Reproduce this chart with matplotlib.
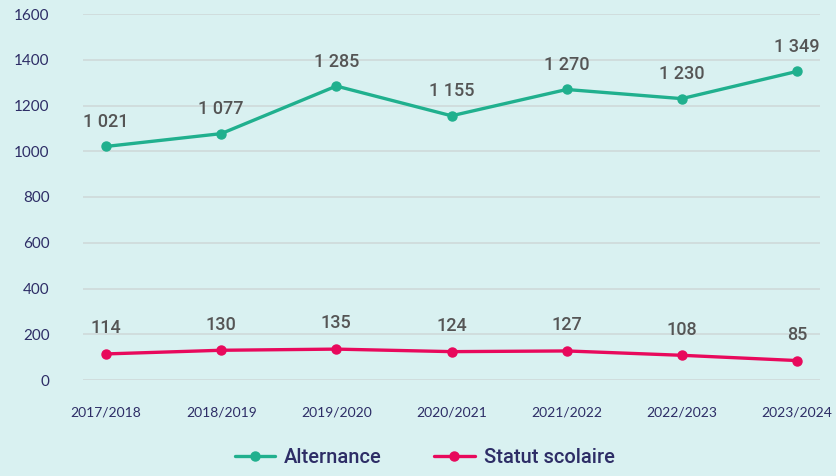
import matplotlib
matplotlib.use("Agg")
from matplotlib import pyplot as plt

years = ["2017/2018", "2018/2019", "2019/2020", "2020/2021", "2021/2022", "2022/2023", "2023/2024"]
alternance = [1021, 1077, 1285, 1155, 1270, 1230, 1349]
statut = [114, 130, 135, 124, 127, 108, 85]
yticks = [0, 200, 400, 600, 800, 1000, 1200, 1400, 1600]

bg = "#d9f1f1"
green = "#20b08e"
pink = "#e8095c"
navy = "#2d2d66"
grey = "#555555"

def fmt(v):
    return f"{v:,}".replace(",", " ")

fig = plt.figure(figsize=(8.36, 4.76), dpi=100, facecolor=bg)
ax = fig.add_axes([83/836, 1 - 380/476, (820-83)/836, (380-14)/476])
ax.set_facecolor(bg)

x = list(range(len(years)))
ax.plot(x, alternance, color=green, lw=2.4, marker="o", ms=6.5, label="Alternance",
        solid_capstyle="round", zorder=3, clip_on=False)
ax.plot(x, statut, color=pink, lw=2.4, marker="o", ms=6.5, label="Statut scolaire",
        solid_capstyle="round", zorder=3, clip_on=False)

for xi, v in zip(x, alternance):
    ax.annotate(fmt(v), (xi, v), xytext=(0, 17.5), textcoords="offset points",
                ha="center", va="center", fontsize=13, color=grey,
                family="Roboto", fontweight="medium")
for xi, v in zip(x, statut):
    ax.annotate(fmt(v), (xi, v), xytext=(0, 18.5), textcoords="offset points",
                ha="center", va="center", fontsize=13, color=grey,
                family="Roboto", fontweight="medium")

ax.set_xlim(-0.2, 6.2)
ax.set_ylim(0, 1600)
ax.set_yticks(yticks)
ax.set_xticks(x)
ax.set_xticklabels(years)
ax.yaxis.grid(True, color="#cfd9d9", lw=1.2)
ax.set_axisbelow(True)
for s in ax.spines.values():
    s.set_visible(False)
ax.tick_params(axis="both", length=0, labelcolor=navy)
ax.tick_params(axis="y", pad=24, labelsize=11)
ax.tick_params(axis="x", pad=19, labelsize=10)
for lab in ax.get_xticklabels() + ax.get_yticklabels():
    lab.set_family("Lato")
    lab.set_color(navy)

leg = fig.legend(loc="lower center", bbox_to_anchor=(0.508, -0.02), ncol=2, frameon=False,
                 handlelength=2.0, columnspacing=2.6, handletextpad=0.45,
                 prop={"family": "Roboto", "weight": "medium", "size": 14.5})
for t in leg.get_texts():
    t.set_color(navy)

fig.savefig("out.png", facecolor=bg)
